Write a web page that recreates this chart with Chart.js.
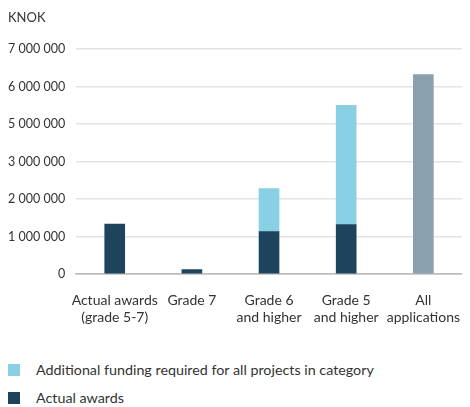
<!DOCTYPE html>
<html>
<head>
<meta charset="utf-8">
<script src="https://cdn.jsdelivr.net/npm/chart.js@4/dist/chart.umd.min.js"></script>
<style>
    body { margin: 0; background: #fff; font-family: Lato, sans-serif; color: #333; }
    #wrap { position: relative; width: 470px; height: 336px; }
    #legend { margin: 20px 0 0 0; padding: 0; list-style: none; font-size: 14.3px; }
    #legend li { position: relative; height: 28px; line-height: 28px; padding-left: 36px; }
    #legend span { position: absolute; left: 8px; top: 8px; width: 12px; height: 12px; }
</style>
</head>
<body>
<div id="wrap"><canvas id="fundingChart" width="470" height="336"></canvas></div>
<ul id="legend"></ul>

<script>
'use strict'

/**
 * Data, in gridline units: the source axis has seven gridlines
 * labelled 0, 1, 2, 3, 5, 6 and 7 million (no 4 000 000 label).
 */

let categories = [
    ['Actual awards', '(grade 5-7)'],
    'Grade 7',
    ['Grade 6', 'and higher'],
    ['Grade 5', 'and higher'],
    ['All', 'applications']
];
let actualAwards = [1330000, 120000, 1130000, 1320000, null];
let additionalFunding = [null, null, 1150000, 3180000, null];
let allApplications = [null, null, null, null, 5320000];
let yTickLabels = ['0', '1 000 000', '2 000 000', '3 000 000', '5 000 000', '6 000 000', '7 000 000'];

let darkBlue = '#1e445d';
let lightBlue = '#89d0e4';
let greyBlue = '#8ba0ae';

var ctx = document.getElementById('fundingChart');
var myChart = new Chart(ctx, {
    type: 'bar',
    data: {
        labels: categories,
        datasets: [{
            label: 'Actual awards',
            data: actualAwards,
            backgroundColor: darkBlue
        }, {
            label: 'Additional funding required for all projects in category',
            data: additionalFunding,
            backgroundColor: lightBlue
        }, {
            label: 'All applications',
            data: allApplications,
            backgroundColor: greyBlue
        }]
    },
    options: {
        responsive: false,
        animation: false,
        maintainAspectRatio: false,
        datasets: {
            bar: { barThickness: 20, categoryPercentage: 1 }
        },
        layout: { padding: { left: 8, right: -20, top: 0, bottom: 0 } },
        plugins: {
            legend: { display: false },
            tooltip: { enabled: false },
            title: {
                display: true,
                text: 'KNOK',
                align: 'start',
                color: '#333',
                font: { family: 'Lato', size: 13, weight: 'normal' },
                padding: { top: 10, bottom: 23.4 }
            }
        },
        scales: {
            x: {
                stacked: true,
                grid: { display: false },
                border: { display: true, color: '#bdbdbd', width: 1.5 },
                ticks: {
                    color: '#333',
                    padding: 10,
                    maxRotation: 0,
                    autoSkip: false,
                    font: { family: 'Lato', size: 14, lineHeight: '17px' }
                }
            },
            y: {
                stacked: true,
                min: 0,
                max: 6000000,
                border: { display: false },
                afterFit: function (scale) {
                    scale.width = scale.width - 11;
                },
                grid: {
                    drawTicks: false,
                    lineWidth: 1.5,
                    color: function (c) {
                        return c.tick && c.tick.value === 0 ? '#bdbdbd' : '#e3e3e3';
                    }
                },
                ticks: {
                    stepSize: 1000000,
                    padding: 11,
                    color: '#333',
                    font: { family: 'Lato', size: 12.5 },
                    callback: function (value, index) {
                        return yTickLabels[index];
                    }
                }
            }
        }
    }
});

/**
 * Legend
 */

let legendItems = [
    { text: 'Additional funding required for all projects in category', color: lightBlue },
    { text: 'Actual awards', color: darkBlue }
];
let legend = document.getElementById('legend');
legendItems.forEach(function (item) {
    let li = document.createElement('li');
    let box = document.createElement('span');
    box.style.background = item.color;
    li.appendChild(box);
    li.appendChild(document.createTextNode(item.text));
    legend.appendChild(li);
});
</script>
</body>
</html>
